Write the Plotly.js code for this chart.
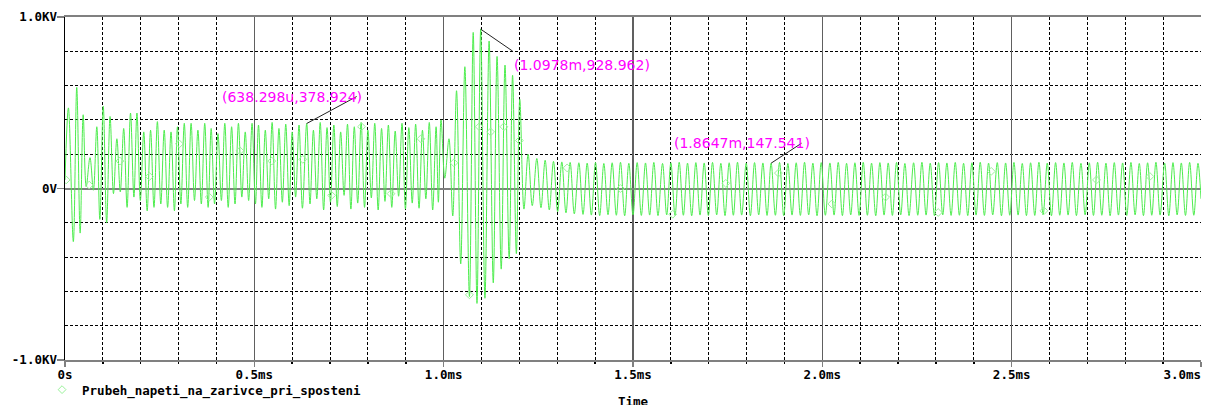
<!DOCTYPE html>
<html>
<head>
<meta charset="utf-8">
<script src="https://cdn.plot.ly/plotly-3.0.1.min.js"></script>
<style>html,body{margin:0;padding:0;background:#fff;}</style>
</head>
<body>
<div id="chart" style="width:1208px;height:405px"></div>
<script>
// ---- data (time in microseconds, voltage in volts) ----
const startTimes = [0,9,22,31,40,48,56,66,75,84,92,101,110,119,128,137,146,155,164,173,182,190,199,208,217,226,235,244,253,262,271,280,289,297,306,315,324,333,342,351,360,369,378,386,395,404,413,422,431,440,449,458,467,476,485,494,503,511,520,529,538,547,556,565,574,583,592,600,609,618,627,638.298,647,656,665,674,683,692,701,710,719,728,737,746,755,764,773,782,791,800,809,818,827,836,845,854,863,872,881,890,899,908,917,926,935,944,953,962,971,980,986];
const startVolts = [50,470,-310,590,-260,430,10,180,-10,360,-180,480,-200,420,-30,290,-20,350,-110,440,-50,440,-70,330,-130,340,-110,390,-90,340,-110,330,-130,360,-90,380,-110,380,-70,340,-90,380,-110,350,-90,320,-70,380,-110,360,-90,380,-50,330,-70,380,-90,370,-110,340,-60,385,-120,350,-80,375,-100,330,-50,370,-115,378.924,-90,340,-60,385,-125,355,-80,370,-105,330,-40,375,-120,360,-85,385,-110,340,-55,380,-125,350,-75,370,-110,335,-45,380,-120,355,-85,375,-115,340,-60,385,-125,360,-80];

const burstTimes = [993,1003,1014,1024,1034,1045,1056,1068,1078,1088,1097.8,1109,1120,1131,1141,1152,1162,1173,1182,1192,1201,1212,1223,1234];
const burstVolts = [400,60,290,-160,570,-440,710,-630,910,-670,928.962,-640,860,-550,770,-470,720,-410,660,-380,520,-120,200,-100];

const steadyTimes = [1246,1257,1268,1279,1290,1301,1312,1323,1334,1345,1357,1368,1379,1390,1401,1412,1423,1434,1445,1456,1467,1478,1489,1500,1511,1522,1533,1544,1555,1566,1578,1589,1600,1611,1622,1633,1644,1655,1666,1677,1688,1699,1710,1721,1732,1743,1754,1765,1776,1787,1799,1810,1821,1832,1843,1854,1864.7,1876,1887,1898,1909,1920,1931,1942,1953,1964,1975,1986,1997,2008,2020,2031,2042,2053,2064,2075,2086,2097,2108,2119,2130,2141,2152,2163,2174,2185,2196,2207,2218,2229,2241,2252,2263,2274,2285,2296,2307,2318,2329,2340,2351,2362,2373,2384,2395,2406,2417,2428,2439,2450,2462,2473,2484,2495,2506,2517,2528,2539,2550,2561,2572,2583,2594,2605,2616,2627,2638,2649,2660,2671,2683,2694,2705,2716,2727,2738,2749,2760,2771,2782,2793,2804,2815,2826,2837,2848,2859,2870,2881,2892,2904,2915,2926,2937,2948,2959,2970,2981,2992,3000];
const steadyVolts = [175,-112,165,-125,158,-135,155,-142,152,-148,150,-151,148,-155,152,-158,146,-153,150,-156,153,-159,147,-154,151,-157,149,-155,152,-158,146,-154,150,-157,153,-156,148,-159,151,-155,149,-157,152,-154,147,-158,150,-156,153,-155,148,-159,151,-154,149,-157,147.541,-156,152,-158,146,-155,150,-157,153,-154,148,-159,151,-156,149,-155,152,-158,147,-154,150,-157,153,-156,148,-159,151,-155,149,-157,152,-154,146,-158,150,-156,153,-155,148,-159,151,-154,149,-157,152,-156,147,-158,150,-155,153,-157,148,-154,151,-159,149,-156,152,-155,146,-158,150,-157,153,-154,148,-159,151,-156,149,-155,152,-158,147,-154,150,-157,153,-156,148,-159,151,-155,149,-157,152,-154,146,-158,150,-156,153,-155,148,-159,151,-154,149,-157,152,-156,147,-60];

const markerTimes = [3,64,145,223,302,381,462,546,628,704,783,861,940,1027,1068,1094,1124,1159,1200,1326,1467,1605,1745,1884,2025,2167,2306,2446,2585,2724,2865];
const markerVolts = [50,20,160,70,260,-50,220,160,170,-40,360,-30,290,150,-620,360,330,360,280,120,0,-150,30,90,-90,-50,-140,100,-130,50,70];

const seriesName = 'Prubeh_napeti_na_zarivce_pri_sposteni';

const xTickVals = [0,500,1000,1500,2000,2500,3000];
const xTickLabels = ['0s','0.5ms','1.0ms','1.5ms','2.0ms','2.5ms','3.0ms'];
const yTickVals = [-1000,0,1000];
const yTickLabels = ['-1.0KV','0V','1.0KV'];

const calloutTimes = [638.298,1097.8,1864.7];
const calloutVolts = [378.924,928.962,147.541];
const calloutLabels = ['(638.298u,378.924)','(1.0978m,928.962)','(1.8647m,147.541)'];

// ---- styling / placement (not data) ----
const leader = [[50,27],[32,-22],[30.5,20]];      // pixel offsets of leader-line ends
const labelShift = [[-15,27],[101,-36],[-29,20]];  // pixel offsets of label centres

const mono = 'DejaVu Sans Mono, monospace';
const waveColor = '#4ded4d';
const NB = '\u00a0';
// last x label sits flush left of its tick (padding keeps it inside the page)
const xTickText = xTickLabels.map((s,i)=> i === xTickLabels.length-1 ? s + NB.repeat(s.length) : s);

const allTimes = startTimes.concat(burstTimes, steadyTimes);
const allVolts = startVolts.concat(burstVolts, steadyVolts);

const traces = [
  {x: allTimes, y: allVolts, type:'scatter', mode:'lines', line:{color:waveColor, width:1, shape:'spline', smoothing:1}, showlegend:false, hoverinfo:'skip'},
  {x: markerTimes, y: markerVolts, type:'scatter', mode:'markers', name: seriesName,
   marker:{symbol:'diamond-open', size:6, color:'#9af29a', line:{width:1, color:'#9af29a'}}, showlegend:true}
];

const annotations = calloutLabels.map((txt,i)=>({
  x: calloutTimes[i], y: calloutVolts[i], xref:'x', yref:'y', text: txt, showarrow:false,
  xanchor:'center', yanchor:'middle', xshift: labelShift[i][0], yshift: labelShift[i][1],
  font:{family:'DejaVu Sans, sans-serif', size:14, color:'#ff00ff'}
}));
annotations.push({x:0.5, y:-0.0933, xref:'paper', yref:'paper', text:'Time', showarrow:false,
  xanchor:'center', yanchor:'top', font:{family:mono, size:12.5, color:'#000', weight:'bold'}});

const shapes = calloutTimes.map((t,i)=>({
  type:'line', xref:'x', yref:'y', xsizemode:'pixel', ysizemode:'pixel',
  xanchor: t, yanchor: calloutVolts[i], x0:0, y0:0, x1: leader[i][0], y1: leader[i][1],
  line:{color:'#222', width:1}
}));

const layout = {
  width:1208, height:405,
  margin:{l:65, r:6.5, t:17, b:45, pad:0, autoexpand:false},
  paper_bgcolor:'#fff', plot_bgcolor:'#fff',
  showlegend:true,
  legend:{x:-0.0202, y:-0.0875, xanchor:'left', yanchor:'middle', bgcolor:'rgba(0,0,0,0)',
    borderwidth:0, font:{family:mono, size:12.5, color:'#000', weight:'bold'}},
  xaxis:{range:[0,3000], tickmode:'array', tickvals:xTickVals, ticktext:xTickText, automargin:false,
    ticklabeloverflow:'allow', ticklabelstandoff:-3,
    showgrid:true, gridcolor:'#606060', gridwidth:1.5, zeroline:false,
    showline:true, linecolor:'#808080', linewidth:2, mirror:true,
    ticks:'outside', ticklen:5, tickcolor:'#808080', tickwidth:1.5,
    tickfont:{family:mono, size:12.5, color:'#000', weight:'bold'},
    minor:{tickmode:'linear', tick0:0, dtick:100, showgrid:true, gridcolor:'#000', gridwidth:1, griddash:'3px,2px',
      ticks:'outside', ticklen:2, tickcolor:'#000'}},
  yaxis:{range:[-1000,1000], tickmode:'array', tickvals:yTickVals, ticktext:yTickLabels, automargin:false,
    ticklabelstandoff:-3,
    showgrid:false, zeroline:true, zerolinecolor:'#808080', zerolinewidth:2,
    showline:true, linecolor:'#000', linewidth:1.5, mirror:false,
    ticks:'outside', ticklen:7, tickcolor:'#808080', tickwidth:1.5,
    tickfont:{family:mono, size:12.5, color:'#000', weight:'bold'},
    minor:{tickmode:'linear', tick0:0, dtick:200, showgrid:true, gridcolor:'#000', gridwidth:1, griddash:'3px,2px', ticks:''}},
  annotations: annotations,
  shapes: shapes
};

Plotly.newPlot('chart', traces, layout, {staticPlot:true, displayModeBar:false});
</script>
</body>
</html>
